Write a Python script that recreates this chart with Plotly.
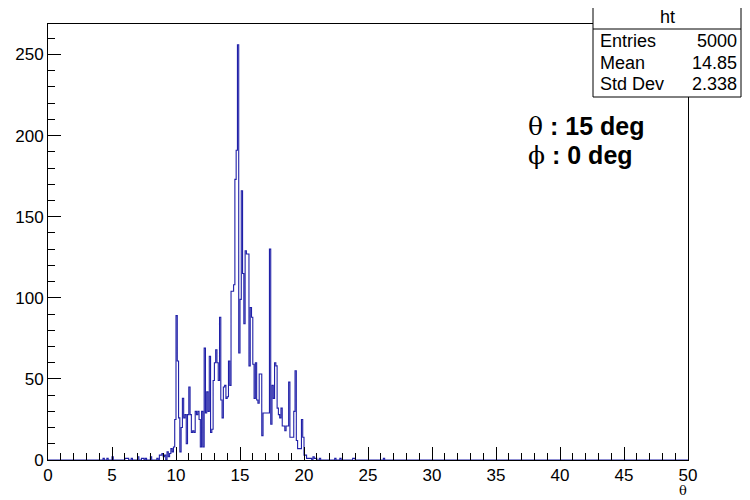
import numpy as np
import plotly.graph_objects as go

# ---------------- data ----------------
bin_width = 0.1
n_bins = 500
x_min, x_max = 0.0, 50.0

# contiguous block of bins starting at 9.0 (0.1 wide each)
core_start = 9.0
core_counts = [
    2, 3, 0, 5, 2, 4, 7, 5, 8, 25,            # 9.0 - 9.9
    89, 61, 26, 5, 20, 38, 26, 28, 10, 28,    # 10.0 - 10.9
    45, 28, 17, 18, 17, 30, 28, 30, 25, 8,    # 11.0 - 11.9
    30, 8, 69, 29, 42, 30, 64, 17, 19, 49,    # 12.0 - 12.9
    60, 68, 60, 49, 88, 37, 26, 45, 46, 38,   # 13.0 - 13.9
    39, 61, 46, 104, 104, 108, 173, 191, 256, 66,   # 14.0 - 14.9
    99, 166, 115, 84, 129, 127, 127, 58, 94, 88,    # 15.0 - 15.9
    59, 38, 60, 37, 35, 53, 53, 15, 29, 29,   # 16.0 - 16.9
    29, 29, 29, 130, 22, 46, 38, 60, 58, 32,  # 17.0 - 17.9
    28, 26, 32, 21, 21, 18, 21, 21, 48, 14,   # 18.0 - 18.9
    14, 14, 30, 55, 12, 7, 7, 7, 25, 14,      # 19.0 - 19.9
    3, 3, 1, 1, 1, 1, 0, 2, 1, 1,             # 20.0 - 20.9
]

# isolated tail bins (low edge, count)
tail_edges = [4.3, 4.6, 5.0, 6.0, 6.1, 6.2, 6.5, 7.0, 7.3, 7.4, 7.6, 8.0, 8.5, 8.7, 8.8, 8.9,
              21.2, 22.4, 22.8, 23.8, 23.9, 26.2]
tail_counts = [1, 1, 2, 1, 1, 1, 1, 2, 1, 1, 1, 2, 1, 3, 3, 4,
               1, 1, 1, 1, 1, 1]

x_tick_vals = [0, 5, 10, 15, 20, 25, 30, 35, 40, 45, 50]
y_tick_vals = [0, 50, 100, 150, 200, 250]

stats_title = "ht"
stats_labels = ["Entries", "Mean", "Std Dev"]
stats_values = ["5000", "14.85", "2.338"]

# ---------------- build histogram ----------------
counts = np.zeros(n_bins)
i0 = int(round(core_start / bin_width))
counts[i0:i0 + len(core_counts)] = core_counts
for e, c in zip(tail_edges, tail_counts):
    counts[int(round(e / bin_width))] = c

edges = np.linspace(x_min, x_max, n_bins + 1)
y_step = np.append(counts, counts[-1])

fig = go.Figure()
fig.add_trace(go.Scatter(
    x=edges, y=y_step, mode="lines", line_shape="hv",
    line=dict(color="#2020a8", width=1.1), hoverinfo="skip", showlegend=False,
))

ymax = 1.05 * counts.max()

font_family = "Liberation Sans, Arial, Helvetica, sans-serif"

# page has an 8px body margin; figure sized to fit the visible window
fig.update_layout(
    width=734, height=492,
    margin=dict(l=40, r=54, t=16, b=40),
    paper_bgcolor="white", plot_bgcolor="white",
    font=dict(family=font_family, size=17, color="black"),
    xaxis=dict(
        range=[x_min, x_max], showgrid=False, zeroline=False, automargin=False,
        showline=True, linecolor="black", linewidth=1, mirror=True,
        ticks="inside", ticklen=13, tickcolor="black", tickwidth=1,
        tickvals=x_tick_vals,
        minor=dict(ticks="inside", ticklen=7, dtick=1, tickcolor="black", showgrid=False),
        tickfont=dict(size=17),
    ),
    yaxis=dict(
        range=[0, ymax], showgrid=False, zeroline=False, automargin=False,
        showline=True, linecolor="black", linewidth=1, mirror=True,
        ticks="inside", ticklen=13, tickcolor="black", tickwidth=1,
        tickvals=y_tick_vals,
        minor=dict(ticks="inside", ticklen=7, dtick=10, tickcolor="black", showgrid=False),
        tickfont=dict(size=17),
    ),
)

# ---------------- stats box ----------------
# helpers converting window pixel positions to paper coordinates
def px_x(p):
    return (p - 48) / 640.0

def px_y(p):
    return (460 - p) / 436.0

fig.add_shape(type="rect", xref="paper", yref="paper",
              x0=px_x(593), x1=px_x(741), y0=px_y(97), y1=px_y(5),
              line=dict(color="black", width=1), fillcolor="white", layer="above")
fig.add_shape(type="line", xref="paper", yref="paper",
              x0=px_x(593), x1=px_x(741), y0=px_y(29), y1=px_y(29),
              line=dict(color="black", width=1), layer="above")

fig.add_annotation(xref="paper", yref="paper", x=px_x(667), y=px_y(17),
                   text=stats_title, showarrow=False, xanchor="center", yanchor="middle",
                   font=dict(size=18))
row_y = [41, 63, 84]
for lab, val, yy in zip(stats_labels, stats_values, row_y):
    fig.add_annotation(xref="paper", yref="paper", x=px_x(598), y=px_y(yy),
                       text=lab, showarrow=False, xanchor="left", yanchor="middle",
                       font=dict(size=18))
    fig.add_annotation(xref="paper", yref="paper", x=px_x(739), y=px_y(yy),
                       text=val, showarrow=False, xanchor="right", yanchor="middle",
                       font=dict(size=18))

# ---------------- labels ----------------
fig.add_annotation(xref="paper", yref="paper", x=px_x(526), y=px_y(127),
                   text="<span style='font-family:DejaVu Serif;font-weight:normal'>θ</span><b> : 15 deg</b>",
                   showarrow=False, xanchor="left", yanchor="middle",
                   font=dict(size=25))
fig.add_annotation(xref="paper", yref="paper", x=px_x(526), y=px_y(155),
                   text="<span style='font-family:DejaVu Serif;font-weight:normal'>ϕ</span><b> : 0 deg</b>",
                   showarrow=False, xanchor="left", yanchor="middle",
                   font=dict(size=25))
fig.add_annotation(xref="paper", yref="paper", x=px_x(683), y=px_y(500),
                   text="θ", showarrow=False, xanchor="center", yanchor="bottom",
                   font=dict(size=13, family="DejaVu Serif"))

fig.write_html("out.html")
